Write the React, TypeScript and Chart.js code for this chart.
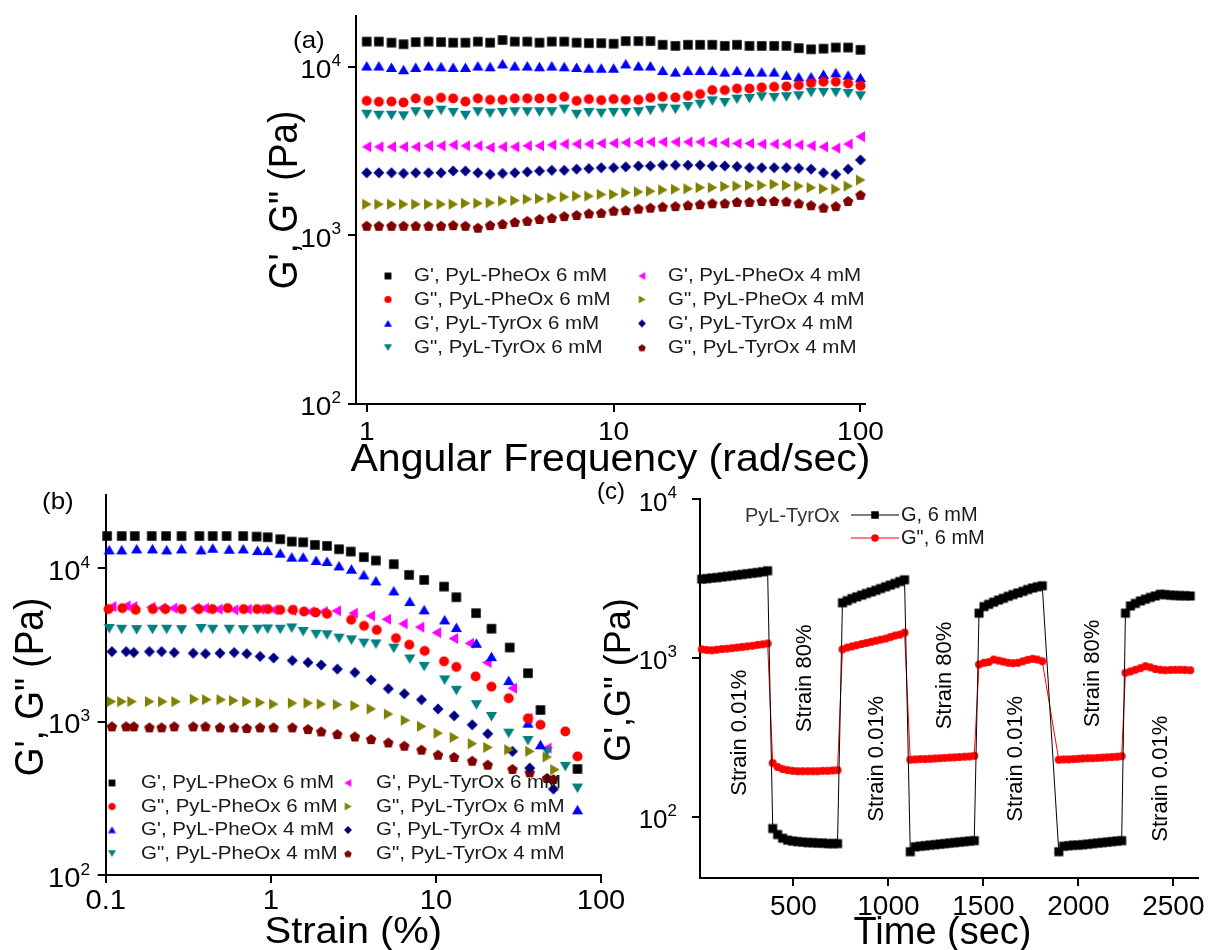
import React, { useEffect, useRef } from 'react';
import { Chart, registerables } from 'chart.js';

Chart.register(...registerables);

const W = 1208;
const H = 950;
const FONT = '"Liberation Sans", Arial, Helvetica, sans-serif';

// ---------- (a) frequency sweep ----------
const freqA = [1, 1.12, 1.26, 1.41, 1.58, 1.78, 2, 2.24, 2.51, 2.82, 3.16, 3.55, 3.98, 4.47, 5.01, 5.62, 6.31, 7.08, 7.94, 8.91, 10, 11.2, 12.6, 14.1, 15.8, 17.8, 20, 22.4, 25.1, 28.2, 31.6, 35.5, 39.8, 44.7, 50.1, 56.2, 63.1, 70.8, 79.4, 89.1, 100];
const gPhe6A = [14100, 14100, 13900, 13600, 14000, 14100, 14000, 13900, 13900, 14100, 13900, 14400, 14100, 14100, 13900, 14100, 14100, 13900, 13800, 13800, 13700, 14200, 14200, 14200, 13500, 13300, 13500, 13500, 13500, 13300, 13500, 13300, 13300, 13300, 13300, 12900, 12700, 12800, 13000, 13000, 12600];
const g2Phe6A = [6280, 6200, 6220, 6140, 6490, 6280, 6550, 6490, 6220, 6490, 6370, 6370, 6490, 6490, 6490, 6490, 6640, 6280, 6430, 6340, 6430, 6370, 6370, 6550, 6640, 6580, 6730, 6890, 7270, 7270, 7430, 7430, 7540, 7610, 7650, 7780, 8000, 8150, 8150, 7960, 7710];
const gTyr6A = [10100, 10100, 9900, 9600, 9900, 10100, 10000, 9900, 9900, 10100, 10000, 10400, 10100, 10100, 10000, 10100, 10000, 9900, 9800, 9800, 9800, 10400, 10100, 10100, 9500, 9300, 9500, 9500, 9500, 9300, 9500, 9300, 9300, 9300, 8900, 8700, 8700, 9000, 9200, 8900, 8600];
const g2Tyr6A = [5230, 5160, 5160, 5120, 5410, 5230, 5530, 5360, 5160, 5410, 5310, 5360, 5410, 5410, 5410, 5410, 5610, 5230, 5360, 5310, 5360, 5360, 5410, 5530, 5680, 5610, 5810, 6000, 6280, 6140, 6430, 6490, 6640, 6580, 6640, 6730, 7050, 7050, 7050, 6950, 6730];
const gPhe4A = [3350, 3350, 3350, 3350, 3350, 3400, 3400, 3440, 3400, 3400, 3320, 3350, 3350, 3400, 3400, 3440, 3480, 3480, 3480, 3510, 3520, 3550, 3550, 3580, 3580, 3580, 3580, 3580, 3550, 3550, 3510, 3510, 3480, 3480, 3480, 3440, 3400, 3350, 3290, 3480, 3850];
const g2Phe4A = [1530, 1530, 1530, 1530, 1530, 1530, 1530, 1530, 1550, 1550, 1560, 1600, 1610, 1640, 1650, 1670, 1690, 1710, 1710, 1750, 1750, 1790, 1810, 1830, 1860, 1880, 1890, 1920, 1920, 1950, 1960, 1980, 1980, 2010, 1980, 1960, 1920, 1890, 1880, 1960, 2130];
const gTyr4A = [2350, 2350, 2350, 2330, 2350, 2350, 2350, 2410, 2410, 2350, 2300, 2330, 2350, 2380, 2410, 2430, 2430, 2470, 2490, 2520, 2520, 2550, 2580, 2580, 2610, 2610, 2610, 2610, 2580, 2580, 2560, 2520, 2520, 2520, 2520, 2500, 2470, 2350, 2300, 2470, 2800];
const g2Tyr4A = [1140, 1140, 1140, 1140, 1140, 1140, 1140, 1150, 1140, 1110, 1150, 1170, 1200, 1220, 1250, 1270, 1300, 1320, 1350, 1360, 1400, 1410, 1440, 1460, 1480, 1490, 1510, 1530, 1550, 1550, 1580, 1580, 1600, 1600, 1590, 1550, 1510, 1460, 1490, 1600, 1740];

const freqTicks = [1, 10, 100];
const freqTickLabels = ['1', '10', '100'];
const modTicks = [100, 1000, 10000];
const modTickExp = ['2', '3', '4'];

// ---------- (b) strain sweep ----------
const strainGPhe6 = [0.102, 0.125, 0.15, 0.19, 0.232, 0.288, 0.369, 0.445, 0.54, 0.68, 0.82, 0.957, 1.14, 1.34, 1.57, 1.85, 2.19, 2.59, 3.05, 3.66, 4.33, 5.56, 6.88, 8.49, 11.2, 13.3, 17.5, 21.7, 28.0, 36.1, 43, 72];
const gPhe6B = [16200, 16200, 16200, 16200, 16200, 16200, 16200, 16200, 16200, 16200, 16070, 15920, 15450, 14900, 14760, 14190, 13970, 13300, 12830, 11800, 11220, 10620, 9040, 8390, 7590, 6470, 5090, 4030, 3040, 2070, 1190, 491];
const strainG2Phe6 = [0.104, 0.126, 0.152, 0.193, 0.23, 0.289, 0.367, 0.443, 0.548, 0.685, 0.826, 0.959, 1.14, 1.36, 1.59, 1.87, 2.19, 3.07, 3.67, 4.38, 5.73, 6.9, 8.55, 11.2, 13.3, 17.4, 21.7, 27.6, 36.1, 43, 60.8, 72.1];
const g2Phe6B = [5410, 5490, 5350, 5410, 5410, 5410, 5410, 5410, 5490, 5410, 5410, 5410, 5350, 5350, 5220, 5140, 5040, 4610, 4210, 3960, 3500, 3170, 2890, 2470, 2270, 1970, 1690, 1420, 1050, 953, 863, 593];
const strainGPhe4 = [0.105, 0.125, 0.154, 0.192, 0.234, 0.288, 0.378, 0.445, 0.56, 0.681, 0.832, 0.957, 1.14, 1.34, 1.57, 1.88, 2.19, 2.59, 3.08, 3.66, 4.33, 5.56, 6.95, 8.49, 11.3, 13.3, 17.6, 21.7, 27.6, 36.1, 43, 72];
const gPhe4B = [13160, 13160, 13360, 13360, 13160, 13360, 13160, 13500, 13300, 13360, 13020, 13020, 12530, 11800, 11800, 11220, 11050, 10350, 9850, 9040, 8260, 7110, 6060, 5350, 4600, 4100, 3240, 2650, 1850, 977, 706, 266];
const strainG2Phe4 = [0.105, 0.125, 0.154, 0.192, 0.234, 0.288, 0.378, 0.445, 0.56, 0.681, 0.832, 0.957, 1.14, 1.34, 1.57, 1.88, 2.19, 2.59, 3.08, 3.66, 4.33, 5.56, 6.95, 8.49, 11.3, 13.3, 17.6, 21.7, 27.6, 36.1, 47.1, 60.8, 72];
const g2Phe4B = [4050, 4000, 3980, 4000, 4000, 3980, 4050, 4000, 4000, 3980, 4000, 4020, 4000, 4080, 3870, 3710, 3680, 3500, 3410, 3250, 3210, 3010, 2560, 2290, 1870, 1600, 1290, 1080, 841, 754, 639, 511, 369];
const strainGTyr6 = [0.109, 0.133, 0.146, 0.188, 0.218, 0.255, 0.348, 0.396, 0.48, 0.598, 0.72, 0.859, 1.035, 1.34, 1.73, 2.08, 2.5, 3.16, 4.02, 5.02, 6.33, 7.99, 10.1, 12.8, 16.0, 20.4, 29.1, 36.1, 47.1];
const gTyr6B = [5620, 5680, 5620, 5570, 5490, 5490, 5490, 5490, 5400, 5350, 5400, 5400, 5350, 5300, 5210, 5210, 5270, 5090, 4890, 4650, 4340, 4130, 3800, 3480, 3240, 2430, 1650, 1050, 672];
const strainG2Tyr6 = [0.108, 0.125, 0.144, 0.184, 0.221, 0.266, 0.344, 0.408, 0.499, 0.594, 0.715, 0.861, 1.04, 1.35, 1.68, 2.02, 2.53, 3.23, 4.05, 5.15, 6.52, 8.18, 10.3, 12.9, 16.6, 20.6, 27.6, 37.0, 47.1, 52.4];
const g2Tyr6B = [1350, 1350, 1350, 1350, 1350, 1350, 1400, 1390, 1390, 1370, 1350, 1330, 1300, 1320, 1320, 1300, 1290, 1270, 1210, 1120, 1020, 931, 841, 789, 718, 679, 656, 640, 588, 486];
const strainGTyr4 = [0.109, 0.133, 0.148, 0.184, 0.218, 0.26, 0.339, 0.402, 0.492, 0.6, 0.715, 0.861, 1.04, 1.35, 1.68, 2.02, 2.53, 3.23, 4.05, 5.15, 6.44, 8.18, 10.3, 12.9, 16.6, 20.6, 29.1, 37.0, 51.5];
const gTyr4B = [2860, 2860, 2820, 2860, 2860, 2820, 2790, 2770, 2790, 2820, 2770, 2660, 2600, 2500, 2430, 2340, 2200, 2090, 1870, 1640, 1520, 1390, 1210, 1090, 953, 833, 639, 498, 363];
const strainG2Tyr4 = [0.109, 0.133, 0.148, 0.184, 0.218, 0.26, 0.339, 0.402, 0.492, 0.6, 0.715, 0.861, 1.04, 1.35, 1.68, 2.02, 2.53, 3.23, 4.05, 5.15, 6.44, 8.18, 10.3, 12.9, 16.6, 20.6, 29.1, 37.0, 47.1, 51.5];
const g2Tyr4B = [931, 931, 931, 917, 917, 931, 931, 931, 917, 917, 908, 917, 917, 917, 894, 863, 829, 800, 769, 731, 696, 656, 608, 588, 556, 524, 491, 467, 429, 422];

const strainTicks = [0.1, 1, 10, 100];
const strainTickLabels = ['0.1', '1', '10', '100'];

// ---------- (c) alternating step strain, PyL-TyrOx 6 mM ----------
const stepTime = [
  17, 44, 70, 97, 124, 150, 177, 204, 230, 257, 284, 310, 337, 364,
  391, 417, 443, 470, 496, 522, 548, 575, 601, 627, 653, 680, 706, 732,
  758, 783, 808, 833, 859, 884, 909, 934, 959, 985, 1010, 1035, 1060, 1085,
  1115, 1141, 1167, 1193, 1219, 1245, 1271, 1296, 1322, 1348, 1374, 1400, 1426, 1452,
  1477, 1503, 1528, 1554, 1580, 1605, 1631, 1656, 1682, 1708, 1733, 1759, 1784, 1810,
  1897, 1922, 1948, 1973, 1999, 2024, 2050, 2075, 2101, 2126, 2152, 2177, 2203, 2228,
  2248, 2274, 2300, 2327, 2353, 2379, 2405, 2431, 2457, 2484, 2510, 2536, 2562, 2589,
];
const stepG1 = [
  3130, 3150, 3180, 3200, 3230, 3260, 3290, 3320, 3350, 3380, 3410, 3440, 3480, 3530,
  84, 77, 73, 71, 70, 69.5, 69, 68.5, 68.5, 68, 68, 67.5, 67.5, 67.5,
  2220, 2290, 2360, 2420, 2480, 2540, 2600, 2660, 2730, 2800, 2870, 2940, 3020, 3100,
  60, 64.5, 65, 65.5, 66, 66.5, 67, 67.5, 68, 68.5, 69, 69.5, 70, 70.5,
  1910, 2100, 2170, 2240, 2310, 2370, 2440, 2500, 2560, 2620, 2690, 2750, 2800, 2840,
  60, 65, 65.5, 66, 66, 66.5, 67, 67.5, 68, 68.5, 69, 69.5, 70, 70.5,
  1910, 2120, 2200, 2280, 2340, 2400, 2450, 2510, 2500, 2480, 2470, 2460, 2460, 2450,
];
const stepG2 = [
  1130, 1120, 1115, 1125, 1135, 1140, 1150, 1160, 1170, 1180, 1190, 1205, 1215, 1230,
  217, 205, 199, 196, 194, 193, 193, 193, 193, 193, 194, 194, 195, 196,
  1130, 1160, 1180, 1200, 1220, 1240, 1260, 1280, 1300, 1320, 1350, 1380, 1400, 1440,
  228, 229, 230, 230, 231, 232, 233, 234, 235, 236, 237, 238, 239, 241,
  907, 930, 940, 975, 960, 945, 930, 925, 930, 950, 970, 985, 975, 950,
  228, 229, 229, 230, 231, 232, 233, 233, 234, 235, 236, 237, 238, 240,
  805, 820, 840, 860, 885, 870, 850, 840, 835, 838, 840, 840, 838, 835,
];
const timeTicks = [500, 1000, 1500, 2000, 2500];
const timeTickLabels = ['500', '1000', '1500', '2000', '2500'];
const stepNotes = ['Strain 0.01%', 'Strain 80%', 'Strain 0.01%', 'Strain 80%', 'Strain 0.01%', 'Strain 80%', 'Strain 0.01%'];
const stepNoteTime = [219, 562, 941, 1298, 1672, 2077, 2435];
const stepNoteLevel = [337, 742, 231, 773, 231, 796, 173];

// ---------- markers ----------
type Shape = 'square' | 'circle' | 'up' | 'down' | 'left' | 'right' | 'diamond' | 'pentagon';

const BLACK = '#000000';
const RED = '#ff0000';
const BLUE = '#0000ff';
const TEAL = '#008080';
const MAGENTA = '#ff00ff';
const OLIVE = '#808000';
const NAVY = '#000080';
const MAROON = '#800000';

const MARKER_SIZE: Record<Shape, number> = {
  square: 9.5, circle: 10, up: 10, down: 10, left: 10, right: 10, diamond: 11, pentagon: 11,
};

function makeMarker(shape: Shape, color: string, s: number): HTMLCanvasElement {
  const c = document.createElement('canvas');
  const dim = Math.ceil(s * 1.25) + 2;
  c.width = dim;
  c.height = dim;
  const ctx = c.getContext('2d') as CanvasRenderingContext2D;
  const m = dim / 2;
  const r = s / 2;
  ctx.fillStyle = color;
  ctx.beginPath();
  switch (shape) {
    case 'square':
      ctx.rect(m - r, m - r, s, s);
      break;
    case 'circle':
      ctx.arc(m, m, r, 0, Math.PI * 2);
      break;
    case 'up':
      ctx.moveTo(m, m - r);
      ctx.lineTo(m + r * 1.12, m + r * 0.9);
      ctx.lineTo(m - r * 1.12, m + r * 0.9);
      break;
    case 'down':
      ctx.moveTo(m, m + r);
      ctx.lineTo(m + r * 1.12, m - r * 0.9);
      ctx.lineTo(m - r * 1.12, m - r * 0.9);
      break;
    case 'left':
      ctx.moveTo(m - r, m);
      ctx.lineTo(m + r * 0.9, m - r * 1.12);
      ctx.lineTo(m + r * 0.9, m + r * 1.12);
      break;
    case 'right':
      ctx.moveTo(m + r, m);
      ctx.lineTo(m - r * 0.9, m - r * 1.12);
      ctx.lineTo(m - r * 0.9, m + r * 1.12);
      break;
    case 'diamond':
      ctx.moveTo(m, m - r);
      ctx.lineTo(m + r, m);
      ctx.lineTo(m, m + r);
      ctx.lineTo(m - r, m);
      break;
    case 'pentagon':
      for (let k = 0; k < 5; k++) {
        const a = -Math.PI / 2 + (k * 2 * Math.PI) / 5;
        const px = m + Math.cos(a) * r;
        const py = m + 0.6 + Math.sin(a) * r;
        if (k === 0) ctx.moveTo(px, py);
        else ctx.lineTo(px, py);
      }
      break;
  }
  ctx.closePath();
  ctx.fill();
  return c;
}

// ---------- text helpers ----------
interface TextOpts {
  size: number;
  align?: CanvasTextAlign;
  baseline?: CanvasTextBaseline;
  sx?: number;
  rotate?: number;
  color?: string;
}

function drawText(ctx: CanvasRenderingContext2D, s: string, x: number, y: number, o: TextOpts) {
  ctx.save();
  ctx.translate(x, y);
  ctx.scale(o.sx ?? 1, 1);
  if (o.rotate) ctx.rotate(o.rotate);
  ctx.font = `${o.size}px ${FONT}`;
  ctx.textAlign = o.align ?? 'left';
  ctx.textBaseline = o.baseline ?? 'alphabetic';
  ctx.fillStyle = o.color ?? '#000';
  ctx.fillText(s, 0, 0);
  ctx.restore();
}

interface PowOpts { size: number; supSize: number; sx: number; base: number; supBase: number }

// "10" with a raised exponent, right edge at `right`
function drawPow(ctx: CanvasRenderingContext2D, exp: string, right: number, tickY: number, o: PowOpts) {
  ctx.save();
  ctx.font = `${o.size}px ${FONT}`;
  const w1 = ctx.measureText('10').width * o.sx;
  ctx.font = `${o.supSize}px ${FONT}`;
  const w2 = ctx.measureText(exp).width * o.sx;
  ctx.restore();
  drawText(ctx, '10', right - w2 - w1, tickY + o.base, { size: o.size, sx: o.sx });
  drawText(ctx, exp, right - w2, tickY + o.supBase, { size: o.supSize, sx: o.sx });
}

// ---------- axes ----------
function axis(type: string, position: 'left' | 'bottom', min: number, max: number, ticks: number[]) {
  return {
    type,
    position,
    min,
    max,
    border: { display: true, color: '#000', width: 2 },
    grid: {
      display: true,
      drawOnChartArea: false,
      drawTicks: true,
      tickLength: 8,
      tickWidth: 2,
      tickColor: '#000',
      color: '#000',
      lineWidth: 2,
    },
    ticks: { display: false },
    afterBuildTicks: (s: any) => {
      s.ticks = ticks.map((v) => ({ value: v }));
    },
    afterFit: (s: any) => {
      if (position === 'left') s.width = 0;
      else s.height = 0;
    },
  };
}

function baseOptions(area: { left: number; top: number; right: number; bottom: number }, xAxis: any, yAxis: any) {
  return {
    responsive: false,
    animation: false as const,
    devicePixelRatio: 1,
    events: [] as any[],
    layout: {
      autoPadding: false,
      padding: { left: area.left, top: area.top, right: W - area.right, bottom: H - area.bottom },
    },
    plugins: { legend: { display: false }, tooltip: { enabled: false } },
    scales: { x: xAxis, y: yAxis },
  };
}

interface SeriesDef { label: string; color: string; shape: Shape; xs: number[]; ys: number[] }

function scatterSet(d: SeriesDef) {
  return {
    label: d.label,
    data: d.xs.map((x, i) => ({ x, y: d.ys[i] })),
    showLine: false,
    clip: false,
    pointStyle: makeMarker(d.shape, d.color, MARKER_SIZE[d.shape]),
    pointRadius: 5,
    borderColor: d.color,
    backgroundColor: d.color,
  };
}

function drawLegend(
  ctx: CanvasRenderingContext2D,
  defs: SeriesDef[],
  cols: { marker: number; text: number }[],
  rows: number[],
  size: number,
  sx: number,
) {
  defs.forEach((d, i) => {
    const col = cols[Math.floor(i / rows.length)];
    const y = rows[i % rows.length];
    const img = makeMarker(d.shape, d.color, MARKER_SIZE[d.shape] * 0.72);
    ctx.drawImage(img, col.marker - img.width / 2, y - img.height / 2);
    drawText(ctx, d.label, col.text, y, { size, sx, baseline: 'middle', color: '#1a1a1a' });
  });
}

// ---------- panel (a) ----------
function createFrequencyChart(canvas: HTMLCanvasElement) {
  const defs: SeriesDef[] = [
    { label: "G', PyL-PheOx 6 mM", color: BLACK, shape: 'square', xs: freqA, ys: gPhe6A },
    { label: 'G", PyL-PheOx 6 mM', color: RED, shape: 'circle', xs: freqA, ys: g2Phe6A },
    { label: "G', PyL-TyrOx 6 mM", color: BLUE, shape: 'up', xs: freqA, ys: gTyr6A },
    { label: 'G", PyL-TyrOx 6 mM', color: TEAL, shape: 'down', xs: freqA, ys: g2Tyr6A },
    { label: "G', PyL-PheOx 4 mM", color: MAGENTA, shape: 'left', xs: freqA, ys: gPhe4A },
    { label: 'G", PyL-PheOx 4 mM', color: OLIVE, shape: 'right', xs: freqA, ys: g2Phe4A },
    { label: "G', PyL-TyrOx 4 mM", color: NAVY, shape: 'diamond', xs: freqA, ys: gTyr4A },
    { label: 'G", PyL-TyrOx 4 mM', color: MAROON, shape: 'pentagon', xs: freqA, ys: g2Tyr4A },
  ];
  const sx = 1.08;
  const decor = {
    id: 'decorA',
    afterDraw(chart: any) {
      const ctx = chart.ctx as CanvasRenderingContext2D;
      const xs = chart.scales.x;
      const ys = chart.scales.y;
      modTicks.forEach((v, i) =>
        drawPow(ctx, modTickExp[i], 341, ys.getPixelForValue(v), { size: 26, supSize: 16, sx, base: 11.3, supBase: -1 }),
      );
      freqTicks.forEach((v, i) =>
        drawText(ctx, freqTickLabels[i], xs.getPixelForValue(v), 440, { size: 26, align: 'center', sx }),
      );
      const a = chart.chartArea;
      drawText(ctx, 'Angular Frequency (rad/sec)', (a.left + a.right) / 2, 471, { size: 38, align: 'center', sx });
      drawText(ctx, 'G\', G" (Pa)', 286, 200, { size: 37, align: 'center', baseline: 'middle', sx, rotate: -Math.PI / 2 });
      drawText(ctx, '(a)', 293, 41, { size: 24, baseline: 'middle', sx });
      drawLegend(ctx, defs, [{ marker: 388, text: 414 }, { marker: 642, text: 668 }], [276, 299.5, 323.5, 347.5], 19, sx);
    },
  };
  return new Chart(canvas, {
    type: 'scatter',
    data: { datasets: defs.map(scatterSet) as any },
    options: baseOptions(
      { left: 356, top: 16, right: 865, bottom: 404 },
      axis('logarithmic', 'bottom', 0.905, 104.3, freqTicks),
      axis('logarithmic', 'left', 100, 20000, modTicks),
    ) as any,
    plugins: [decor],
  });
}

// ---------- panel (b) ----------
function createStrainChart(canvas: HTMLCanvasElement) {
  const defs: SeriesDef[] = [
    { label: "G', PyL-PheOx 6 mM", color: BLACK, shape: 'square', xs: strainGPhe6, ys: gPhe6B },
    { label: 'G", PyL-PheOx 6 mM', color: RED, shape: 'circle', xs: strainG2Phe6, ys: g2Phe6B },
    { label: "G', PyL-PheOx 4 mM", color: BLUE, shape: 'up', xs: strainGPhe4, ys: gPhe4B },
    { label: 'G", PyL-PheOx 4 mM', color: TEAL, shape: 'down', xs: strainG2Phe4, ys: g2Phe4B },
    { label: "G', PyL-TyrOx 6 mM", color: MAGENTA, shape: 'left', xs: strainGTyr6, ys: gTyr6B },
    { label: 'G", PyL-TyrOx 6 mM', color: OLIVE, shape: 'right', xs: strainG2Tyr6, ys: g2Tyr6B },
    { label: "G', PyL-TyrOx 4 mM", color: NAVY, shape: 'diamond', xs: strainGTyr4, ys: gTyr4B },
    { label: 'G", PyL-TyrOx 4 mM', color: MAROON, shape: 'pentagon', xs: strainG2Tyr4, ys: g2Tyr4B },
  ];
  const sx = 1.08;
  const decor = {
    id: 'decorB',
    afterDraw(chart: any) {
      const ctx = chart.ctx as CanvasRenderingContext2D;
      const xs = chart.scales.x;
      const ys = chart.scales.y;
      modTicks.forEach((v, i) =>
        drawPow(ctx, modTickExp[i], 90, ys.getPixelForValue(v), { size: 27, supSize: 16, sx, base: 11.7, supBase: -0.5 }),
      );
      strainTicks.forEach((v, i) =>
        drawText(ctx, strainTickLabels[i], xs.getPixelForValue(v), 909, { size: 27, align: 'center', sx }),
      );
      const a = chart.chartArea;
      drawText(ctx, 'Strain (%)', (a.left + a.right) / 2, 943, { size: 37, align: 'center', sx });
      drawText(ctx, 'G\', G" (Pa)', 31.5, 687, { size: 37, align: 'center', baseline: 'middle', sx, rotate: -Math.PI / 2 });
      drawText(ctx, '(b)', 42, 502, { size: 24, baseline: 'middle', sx });
      drawLegend(ctx, defs, [{ marker: 112, text: 141 }, { marker: 348, text: 376 }], [783, 806.5, 830, 853.5], 19, sx);
    },
  };
  return new Chart(canvas, {
    type: 'scatter',
    data: { datasets: defs.map(scatterSet) as any },
    options: baseOptions(
      { left: 105.7, top: 495, right: 601, bottom: 875 },
      axis('logarithmic', 'bottom', 0.1, 100, strainTicks),
      axis('logarithmic', 'left', 100, 30000, modTicks),
    ) as any,
    plugins: [decor],
  });
}

// ---------- panel (c) ----------
function createStepChart(canvas: HTMLCanvasElement) {
  const squareImg = makeMarker('square', BLACK, 9);
  const dotImg = makeMarker('circle', RED, 8);
  const decor = {
    id: 'decorC',
    afterDraw(chart: any) {
      const ctx = chart.ctx as CanvasRenderingContext2D;
      const xs = chart.scales.x;
      const ys = chart.scales.y;
      modTicks.forEach((v, i) =>
        drawPow(ctx, modTickExp[i], 677, ys.getPixelForValue(v), { size: 26, supSize: 17, sx: 1, base: 11.7, supBase: -1 }),
      );
      timeTicks.forEach((v, i) =>
        drawText(ctx, timeTickLabels[i], xs.getPixelForValue(v), 915, { size: 28, align: 'center' }),
      );
      drawText(ctx, 'Time (sec)', 942.5, 944, { size: 38, align: 'center' });
      drawText(ctx, 'G\',G" (Pa)', 620, 680, { size: 36, align: 'center', baseline: 'middle', rotate: -Math.PI / 2 });
      drawText(ctx, '(c)', 625, 492, { size: 24, align: 'right', baseline: 'middle' });

      stepNotes.forEach((s, i) =>
        drawText(ctx, s, xs.getPixelForValue(stepNoteTime[i]), ys.getPixelForValue(stepNoteLevel[i]), {
          size: 22, align: 'center', baseline: 'middle', rotate: -Math.PI / 2,
        }),
      );

      // legend
      drawText(ctx, 'PyL-TyrOx', 745, 516, { size: 20, baseline: 'middle', color: '#333' });
      const rows = [
        { y: 515, color: BLACK, img: makeMarker('square', BLACK, 7.5), text: 'G, 6 mM' },
        { y: 538, color: RED, img: makeMarker('circle', RED, 7.5), text: 'G", 6 mM' },
      ];
      rows.forEach((r) => {
        ctx.save();
        ctx.strokeStyle = r.color;
        ctx.lineWidth = 1.2;
        ctx.beginPath();
        ctx.moveTo(851, r.y);
        ctx.lineTo(899, r.y);
        ctx.stroke();
        ctx.restore();
        ctx.drawImage(r.img, 875 - r.img.width / 2, r.y - r.img.height / 2);
        drawText(ctx, r.text, 901, r.y, { size: 20, baseline: 'middle', color: '#1a1a1a' });
      });
    },
  };
  return new Chart(canvas, {
    type: 'scatter',
    data: {
      datasets: [
        {
          label: "G'",
          data: stepTime.map((t, i) => ({ x: t, y: stepG1[i] })),
          showLine: true,
          clip: false,
          borderColor: BLACK,
          backgroundColor: BLACK,
          borderWidth: 1,
          pointStyle: squareImg,
          pointRadius: 4,
        },
        {
          label: 'G"',
          data: stepTime.map((t, i) => ({ x: t, y: stepG2[i] })),
          showLine: true,
          clip: false,
          borderColor: RED,
          backgroundColor: RED,
          borderWidth: 1,
          pointStyle: dotImg,
          pointRadius: 4,
        },
      ] as any,
    },
    options: baseOptions(
      { left: 700, top: 499, right: 1198, bottom: 878 },
      axis('linear', 'bottom', 8, 2630, timeTicks),
      axis('logarithmic', 'left', 41, 10000, modTicks),
    ) as any,
    plugins: [decor],
  });
}

export default function App() {
  const refA = useRef<HTMLCanvasElement>(null);
  const refB = useRef<HTMLCanvasElement>(null);
  const refC = useRef<HTMLCanvasElement>(null);

  useEffect(() => {
    const charts = [
      createFrequencyChart(refA.current as HTMLCanvasElement),
      createStrainChart(refB.current as HTMLCanvasElement),
      createStepChart(refC.current as HTMLCanvasElement),
    ];
    return () => charts.forEach((c) => c.destroy());
  }, []);

  const layer: React.CSSProperties = { position: 'absolute', left: 0, top: 0, width: W, height: H };
  return (
    <div style={{ position: 'absolute', left: 0, top: 0, width: W, height: H, background: '#fff', overflow: 'hidden' }}>
      <canvas ref={refA} width={W} height={H} style={layer} />
      <canvas ref={refB} width={W} height={H} style={layer} />
      <canvas ref={refC} width={W} height={H} style={layer} />
    </div>
  );
}
